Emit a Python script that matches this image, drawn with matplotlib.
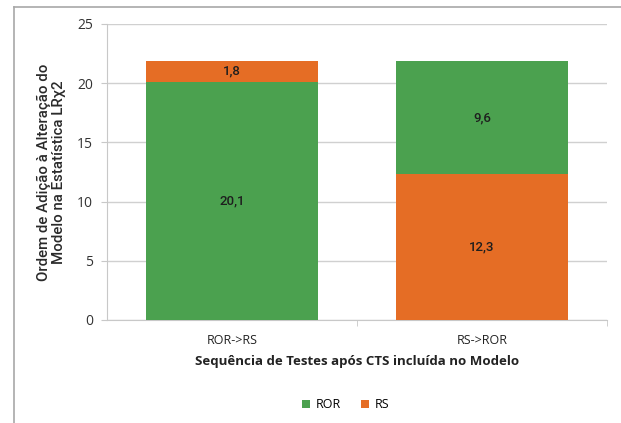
import matplotlib.pyplot as plt
import matplotlib.lines as mlines

plt.rcParams['font.family'] = ['Open Sans', 'DejaVu Sans']

categories = ["ROR->RS", "RS->ROR"]
ror = [20.1, 9.6]
rs = [1.8, 12.3]
ror_labels = ["20,1", "9,6"]
rs_labels = ["1,8", "12,3"]

green = "#4BA14F"
orange = "#E56D25"
medium = dict(family=["Roboto", "DejaVu Sans"], fontweight="medium")

fig = plt.figure(figsize=(6.21, 4.23), dpi=100)
ax = fig.add_axes([0.1723, 0.2435, 0.805, 0.6998])

x = [0, 1]
# ROR->RS: green bottom, orange on top; RS->ROR: orange bottom, green on top
ror_bottom = [0, rs[1]]
rs_bottom = [ror[0], 0]
b1 = ax.bar(x, ror, bottom=ror_bottom, width=0.69, color=green, label="ROR", zorder=3)
b2 = ax.bar(x, rs, bottom=rs_bottom, width=0.69, color=orange, label="RS", zorder=3)
ax.bar_label(b1, labels=ror_labels, label_type="center", fontsize=9.5, color="#1e1e1e", **medium)
ax.bar_label(b2, labels=rs_labels, label_type="center", fontsize=9.5, color="#1e1e1e", **medium)

ax.set_xlim(-0.5, 1.5)
ax.set_ylim(0, 25)
ax.set_yticks([0, 5, 10, 15, 20, 25])
ax.yaxis.grid(True, color="#d0d0d0", linewidth=1, zorder=0)
ax.set_xticks(x)
ax.set_xticklabels(categories, fontsize=9, color="#222222")
ax.set_xticks([0.5, 1.5], minor=True)
ax.tick_params(axis="x", which="major", length=0, pad=10)
ax.tick_params(axis="x", which="minor", length=4, color="#c8c8c8")
ax.tick_params(axis="y", length=4, color="#c8c8c8", labelsize=10, labelcolor="#333333", pad=6)

for s in ["top", "right"]:
    ax.spines[s].set_visible(False)
ax.spines["left"].set_color("#c8c8c8")
ax.spines["bottom"].set_color("#c8c8c8")

ax.set_xlabel("Sequência de Testes após CTS incluída no Modelo", fontsize=9.5, fontweight="bold",
              color="#222222", labelpad=6)
ax.set_ylabel("Ordem de Adição à Alteração do\nModelo na Estatística LRχ2", fontsize=10.8,
              color="#2a2a2a", labelpad=8, linespacing=1.1, **medium)

ax.legend(loc="center", bbox_to_anchor=(0.556, 0.043), bbox_transform=fig.transFigure, ncol=2,
          frameon=False, fontsize=9, handlelength=0.7, handleheight=0.7, columnspacing=1.6,
          handletextpad=0.4)

# outer frame lines (left and top)
fig.add_artist(mlines.Line2D([14 / 621, 14 / 621], [0, 1 - 7 / 423], color="#a8a8a8", linewidth=1.2,
                             transform=fig.transFigure))
fig.add_artist(mlines.Line2D([14 / 621, 1], [1 - 7 / 423, 1 - 7 / 423], color="#a8a8a8", linewidth=1.2,
                             transform=fig.transFigure))

plt.savefig("out.png", dpi=100)
